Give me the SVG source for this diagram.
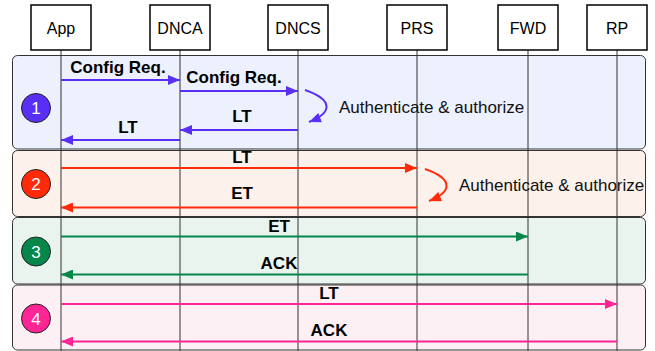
<svg xmlns="http://www.w3.org/2000/svg" width="655" height="351" viewBox="0 0 655 351">
<style>
.band{stroke:#333;stroke-width:1}
.actor rect{fill:#fff;stroke:#000;stroke-width:1.5}
.actor text{font-family:"Liberation Sans",Arial,sans-serif;font-size:16px;text-anchor:middle;fill:#000}
.life{stroke:#333;stroke-width:1}
.lbl{font-family:"Liberation Sans",Arial,sans-serif;font-size:17px;font-weight:bold;text-anchor:middle;fill:#000}
.note{font-family:"Liberation Sans",Arial,sans-serif;font-size:17px;fill:#111}
.num{font-family:"Liberation Sans",Arial,sans-serif;font-size:17px;fill:#fff;text-anchor:middle}
.msg{fill:none;stroke-width:2}
.p{stroke:#5a2ff5}.r{stroke:#ff2a0a}.g{stroke:#05864a}.k{stroke:#ff2595}
</style>
<defs>
<marker id="ap" viewBox="0 0 12 10" refX="12" refY="5" markerWidth="12" markerHeight="10" markerUnits="userSpaceOnUse" orient="auto"><path d="M0,0 L12,5 L0,10 Z" fill="#5a2ff5"/></marker>
<marker id="ar" viewBox="0 0 12 10" refX="12" refY="5" markerWidth="12" markerHeight="10" markerUnits="userSpaceOnUse" orient="auto"><path d="M0,0 L12,5 L0,10 Z" fill="#ff2a0a"/></marker>
<marker id="ag" viewBox="0 0 12 10" refX="12" refY="5" markerWidth="12" markerHeight="10" markerUnits="userSpaceOnUse" orient="auto"><path d="M0,0 L12,5 L0,10 Z" fill="#05864a"/></marker>
<marker id="ak" viewBox="0 0 12 10" refX="12" refY="5" markerWidth="12" markerHeight="10" markerUnits="userSpaceOnUse" orient="auto"><path d="M0,0 L12,5 L0,10 Z" fill="#ff2595"/></marker>
</defs>
<rect width="655" height="351" fill="#fff"/>
<g id="band1"><rect class="band" x="12.5" y="55.5" width="633" height="93.5" rx="5" fill="#edf0fd"/></g>
<g id="band2"><rect class="band" x="12.5" y="150.5" width="633" height="66" rx="5" fill="#fdf1ec"/></g>
<g id="band3"><rect class="band" x="12.5" y="217.5" width="633" height="66.5" rx="5" fill="#eaf4ee"/></g>
<g id="band4"><rect class="band" x="12.5" y="285" width="633" height="65" rx="5" fill="#fdf0f5"/></g>
<g id="lifelines">
<line class="life" x1="61" y1="50" x2="61" y2="351"/>
<line class="life" x1="180" y1="50" x2="180" y2="351"/>
<line class="life" x1="298" y1="50" x2="298" y2="351"/>
<line class="life" x1="417" y1="50" x2="417" y2="351"/>
<line class="life" x1="528" y1="50" x2="528" y2="351"/>
<line class="life" x1="617" y1="50" x2="617" y2="351"/>
</g>
<g id="app" class="actor"><rect x="31" y="5" width="60" height="45"/><text x="61" y="34">App</text></g>
<g id="dnca" class="actor"><rect x="150" y="5" width="60" height="45"/><text x="180" y="34">DNCA</text></g>
<g id="dncs" class="actor"><rect x="268" y="5" width="60" height="45"/><text x="298" y="34">DNCS</text></g>
<g id="prs" class="actor"><rect x="387" y="5" width="60" height="45"/><text x="417" y="34">PRS</text></g>
<g id="fwd" class="actor"><rect x="498" y="5" width="60" height="45"/><text x="528" y="34">FWD</text></g>
<g id="rp" class="actor"><rect x="587" y="5" width="60" height="45"/><text x="617" y="34">RP</text></g>
<g id="step1"><circle cx="36" cy="108" r="14.5" fill="#5a2ff5" stroke="#222" stroke-width="1"/><text class="num" x="36" y="114">1</text></g>
<g id="step2"><circle cx="36" cy="184" r="14.5" fill="#ff2a0a" stroke="#222" stroke-width="1"/><text class="num" x="36" y="190">2</text></g>
<g id="step3"><circle cx="36" cy="251.5" r="14.5" fill="#05864a" stroke="#222" stroke-width="1"/><text class="num" x="36" y="257.5">3</text></g>
<g id="step4"><circle cx="36" cy="318.5" r="14.5" fill="#ff2595" stroke="#222" stroke-width="1"/><text class="num" x="36" y="324.5">4</text></g>
<g id="connectors">
<line class="msg p" x1="61" y1="80" x2="180" y2="80" marker-end="url(#ap)"/>
<text class="lbl" x="118" y="73">Config Req.</text>
<line class="msg p" x1="180" y1="91" x2="298" y2="91" marker-end="url(#ap)"/>
<text class="lbl" x="234" y="83">Config Req.</text>
<path class="msg p" d="M305,90 C334,100 332,113 309,122" marker-end="url(#ap)"/>
<text class="note" x="339" y="113">Authenticate &amp; authorize</text>
<line class="msg p" x1="298" y1="130" x2="180" y2="130" marker-end="url(#ap)"/>
<text class="lbl" x="242" y="122">LT</text>
<line class="msg p" x1="180" y1="140" x2="61" y2="140" marker-end="url(#ap)"/>
<text class="lbl" x="128" y="133">LT</text>
<line class="msg r" x1="61" y1="168" x2="417" y2="168" marker-end="url(#ar)"/>
<text class="lbl" x="242" y="163">LT</text>
<path class="msg r" d="M425,169 C454,179 452,192 429,201" marker-end="url(#ar)"/>
<text class="note" x="459" y="191">Authenticate &amp; authorize</text>
<line class="msg r" x1="417" y1="207.5" x2="61" y2="207.5" marker-end="url(#ar)"/>
<text class="lbl" x="242" y="199">ET</text>
<line class="msg g" x1="61" y1="236.5" x2="528" y2="236.5" marker-end="url(#ag)"/>
<text class="lbl" x="279" y="232">ET</text>
<line class="msg g" x1="528" y1="274.5" x2="61" y2="274.5" marker-end="url(#ag)"/>
<text class="lbl" x="279" y="269">ACK</text>
<line class="msg k" x1="61" y1="304" x2="617" y2="304" marker-end="url(#ak)"/>
<text class="lbl" x="329" y="299">LT</text>
<line class="msg k" x1="617" y1="341.5" x2="61" y2="341.5" marker-end="url(#ak)"/>
<text class="lbl" x="329" y="336">ACK</text>
</g>
</svg>
